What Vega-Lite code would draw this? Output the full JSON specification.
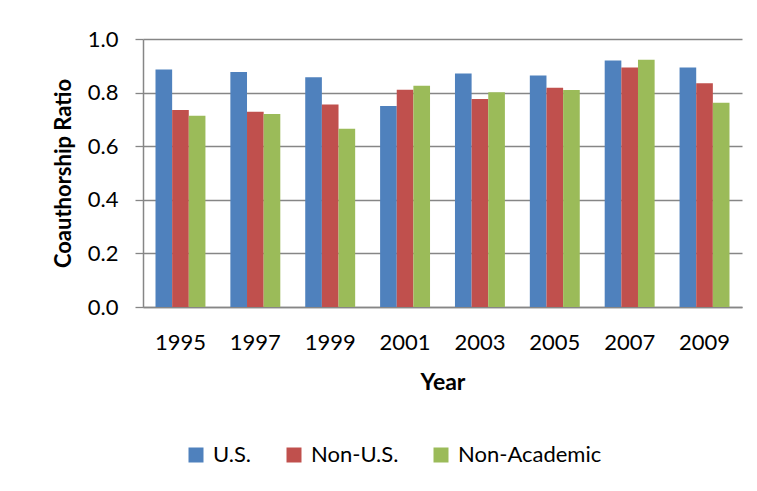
{
  "$schema": "https://vega.github.io/schema/vega-lite/v6.json",
  "width": 599,
  "height": 268,
  "autosize": {"type": "none"},
  "padding": {"left": 143, "top": 39, "right": 15, "bottom": 184},
  "background": "white",
  "config": {
    "view": {"stroke": null},
    "font": "Lato",
    "axis": {"labelFont": "Lato", "titleFont": "Lato", "labelColor": "#000000", "titleColor": "#000000"},
    "legend": {"labelFont": "Lato", "labelColor": "#000000"}
  },
  "data": {
    "values": [
      {"year": "1995", "group": "U.S.", "value": 0.886},
      {"year": "1995", "group": "Non-U.S.", "value": 0.735},
      {"year": "1995", "group": "Non-Academic", "value": 0.714},
      {"year": "1997", "group": "U.S.", "value": 0.877},
      {"year": "1997", "group": "Non-U.S.", "value": 0.729},
      {"year": "1997", "group": "Non-Academic", "value": 0.720},
      {"year": "1999", "group": "U.S.", "value": 0.857},
      {"year": "1999", "group": "Non-U.S.", "value": 0.756},
      {"year": "1999", "group": "Non-Academic", "value": 0.665},
      {"year": "2001", "group": "U.S.", "value": 0.750},
      {"year": "2001", "group": "Non-U.S.", "value": 0.811},
      {"year": "2001", "group": "Non-Academic", "value": 0.826},
      {"year": "2003", "group": "U.S.", "value": 0.871},
      {"year": "2003", "group": "Non-U.S.", "value": 0.776},
      {"year": "2003", "group": "Non-Academic", "value": 0.801},
      {"year": "2005", "group": "U.S.", "value": 0.864},
      {"year": "2005", "group": "Non-U.S.", "value": 0.818},
      {"year": "2005", "group": "Non-Academic", "value": 0.810},
      {"year": "2007", "group": "U.S.", "value": 0.920},
      {"year": "2007", "group": "Non-U.S.", "value": 0.894},
      {"year": "2007", "group": "Non-Academic", "value": 0.923},
      {"year": "2009", "group": "U.S.", "value": 0.894},
      {"year": "2009", "group": "Non-U.S.", "value": 0.835},
      {"year": "2009", "group": "Non-Academic", "value": 0.762}
    ]
  },
  "mark": {"type": "bar"},
  "encoding": {
    "x": {
      "field": "year",
      "type": "nominal",
      "scale": {"paddingInner": 0.333, "paddingOuter": 0.167},
      "axis": {
        "title": "Year",
        "labelAngle": 0,
        "ticks": false,
        "domain": true,
        "domainColor": "#868686",
        "domainWidth": 1.5,
        "labelFontSize": 22,
        "labelPadding": 25,
        "titleFontSize": 23,
        "titleFontWeight": "bold",
        "titlePadding": 18
      }
    },
    "xOffset": {
      "field": "group",
      "type": "nominal",
      "sort": ["U.S.", "Non-U.S.", "Non-Academic"],
      "scale": {"paddingInner": 0, "paddingOuter": 0}
    },
    "y": {
      "field": "value",
      "type": "quantitative",
      "scale": {"domain": [0, 1], "nice": false},
      "axis": {
        "title": "Coauthorship Ratio",
        "values": [0, 0.2, 0.4, 0.6, 0.8, 1.0],
        "format": ".1f",
        "grid": true,
        "gridColor": "#868686",
        "gridWidth": 1.3,
        "domain": true,
        "domainColor": "#868686",
        "domainWidth": 1.5,
        "tickColor": "#868686",
        "tickSize": 8,
        "tickWidth": 1.3,
        "labelFontSize": 22,
        "labelPadding": 17,
        "titleFontSize": 22,
        "titleFontWeight": "bold",
        "titlePadding": 12
      }
    },
    "color": {
      "field": "group",
      "type": "nominal",
      "scale": {
        "domain": ["U.S.", "Non-U.S.", "Non-Academic"],
        "range": ["#4F81BD", "#C0504D", "#9BBB59"]
      },
      "legend": {
        "title": null,
        "orient": "none",
        "direction": "horizontal",
        "legendX": 42,
        "legendY": 405,
        "padding": 0,
        "symbolType": "square",
        "symbolSize": 225,
        "symbolStrokeWidth": 0,
        "symbolOpacity": 1,
        "labelFontSize": 22,
        "labelOffset": 6,
        "columnPadding": 31
      }
    }
  }
}
